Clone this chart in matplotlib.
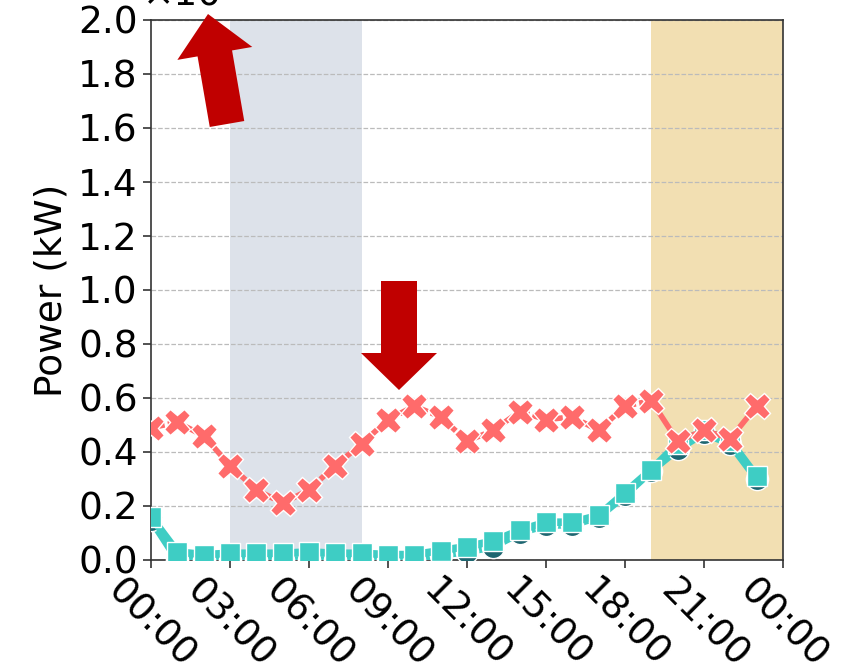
import matplotlib
matplotlib.use("Agg")
import matplotlib.pyplot as plt
from matplotlib.patches import FancyArrow

# Hourly profile, hour 0 .. 23
hours = list(range(24))
tick_hours = [0, 3, 6, 9, 12, 15, 18, 21, 24]
tick_labels = ["00:00", "03:00", "06:00", "09:00", "12:00",
               "15:00", "18:00", "21:00", "00:00"]

demand = [0.49, 0.51, 0.46, 0.35, 0.26, 0.21, 0.26, 0.35, 0.43, 0.52,
          0.57, 0.53, 0.44, 0.48, 0.55, 0.52, 0.53, 0.48, 0.57, 0.59,
          0.44, 0.48, 0.45, 0.57]
base_load = [0.15, 0.0, 0.0, 0.0, 0.0, 0.0, 0.0, 0.0, 0.0, 0.0,
             0.0, 0.02, 0.03, 0.05, 0.10, 0.13, 0.13, 0.16, 0.24, 0.33,
             0.41, 0.47, 0.43, 0.30]
shifted_load = [0.16, 0.03, 0.02, 0.025, 0.025, 0.025, 0.03, 0.025, 0.025, 0.02,
                0.02, 0.035, 0.05, 0.07, 0.11, 0.14, 0.14, 0.165, 0.25, 0.335,
                0.43, 0.48, 0.44, 0.31]

off_peak = (3, 8)
peak = (19, 24)

RED = "#ff6b6b"
TEAL = "#3ecdc4"
DARK_TEAL = "#1d6670"
ARROW = "#c00000"

fig = plt.figure(figsize=(8.43, 6.70), dpi=100)
ax = fig.add_axes([151 / 843, 110 / 670, 632 / 843, 540 / 670])

ax.axvspan(*off_peak, color="#dde2ea", zorder=0.2, lw=0)
ax.axvspan(*peak, color="#f2dfb2", zorder=0.2, lw=0)

ax.set_axisbelow(True)
ax.yaxis.grid(True, linestyle="--", color="#bbbbbb", linewidth=0.9, zorder=0.5)

# base load: dark circles
ax.plot(hours, base_load, color=TEAL, lw=5.5, marker="o", ms=16,
        markerfacecolor=DARK_TEAL, markeredgecolor="white", markeredgewidth=1,
        zorder=3)
# shifted load: teal squares
ax.plot(hours, shifted_load, color=TEAL, lw=5.5, marker="s", ms=14,
        markerfacecolor=TEAL, markeredgecolor="white", markeredgewidth=1,
        zorder=4)

# demand: dashed before the peak window, solid inside it
split = peak[0]
ax.plot(hours[:split + 1], demand[:split + 1], color=RED, lw=4,
        linestyle=(0, (2.5, 0.6)), zorder=5)
ax.plot(hours[split:], demand[split:], color=RED, lw=4, zorder=5)
ax.plot(hours, demand, linestyle="none", marker="X", ms=19,
        markerfacecolor=RED, markeredgecolor="white", markeredgewidth=1,
        zorder=6)

ax.set_xlim(0, 24)
ax.set_ylim(0, 2.0)
ax.set_yticks([0.0, 0.2, 0.4, 0.6, 0.8, 1.0, 1.2, 1.4, 1.6, 1.8, 2.0])
ax.set_yticklabels([f"{v:.1f}" for v in ax.get_yticks()])
ax.set_xticks(tick_hours)
ax.set_xticklabels(tick_labels, rotation=-45)
ax.tick_params(axis="both", labelsize=27, length=6, width=1.2, color="#333333")
ax.set_ylabel("Power (kW)", fontsize=27, labelpad=6)
for s in ax.spines.values():
    s.set_color("#333333")
    s.set_linewidth(1.2)

# scale factor text partly above the frame
fig.text(143 / 843, 665 / 670, "×10", fontsize=27, ha="left", va="baseline")

# arrows, drawn in inch coordinates so widths stay isotropic
def px_arrow(x0, y0, x1, y1, width, head_w, head_l):
    fx0, fy0 = x0 / 100, (670 - y0) / 100
    fx1, fy1 = x1 / 100, (670 - y1) / 100
    arr = FancyArrow(fx0, fy0, fx1 - fx0, fy1 - fy0, width=width / 100,
                     head_width=head_w / 100, head_length=head_l / 100,
                     length_includes_head=True, color=ARROW, lw=0,
                     transform=fig.dpi_scale_trans, zorder=10)
    fig.add_artist(arr)

px_arrow(227, 124, 208, 14, 35, 76, 40)
px_arrow(399, 281, 399, 390, 36, 76, 37)

fig.savefig("out.png", dpi=100)
